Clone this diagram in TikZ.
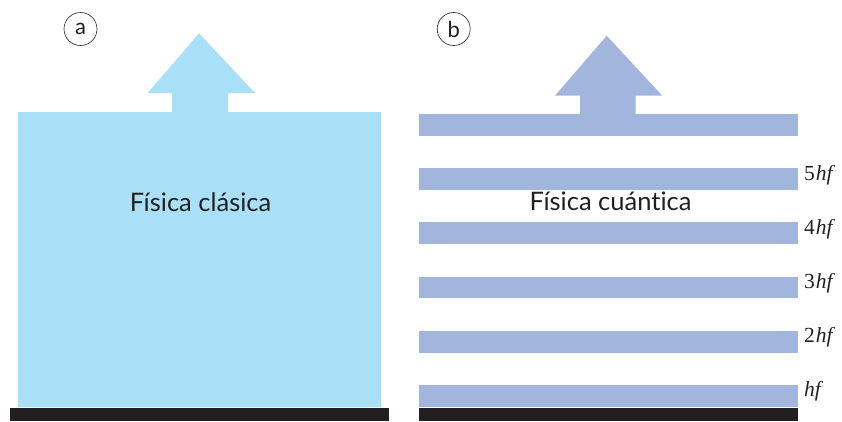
\documentclass[tikz,border=0pt]{standalone}
\usepackage{fontspec}
\setmainfont{Liberation Serif}
\newfontfamily\labelfont[Ligatures=NoCommon]{Lato}
\definecolor{skyA}{HTML}{AAE0F7}
\definecolor{bandB}{HTML}{A2B5DC}
\definecolor{floorC}{HTML}{231F20}
\begin{document}
\begin{tikzpicture}[x=1pt,y=-1pt,
  panellabel/.style={font=\labelfont\fontsize{25.5}{25.5}\selectfont, text=floorC, inner sep=0pt, anchor=base},
  tag/.style={circle, draw=floorC, line width=0.6pt, minimum size=33pt, inner sep=0pt, font=\labelfont\fontsize{22}{22}\selectfont, text=floorC},
  level/.style={font=\fontsize{21.5}{21.5}\selectfont, text=floorC, inner sep=0pt, anchor=base west}]
\useasboundingbox (0,0) rectangle (842,421);
% panel a
\fill[skyA] (18,112) rectangle (381,407);
\fill[skyA] (172,112) -- (172,93) -- (147.7,93) -- (199,33.3) -- (255,93) -- (228,93) -- (228,112) -- cycle;
\fill[floorC] (10,408) rectangle (389,421);
\node[tag] (ta) at (80.5,29) {a};
\node[panellabel] (ca) at (200.5,211) {Física clásica};
% panel b
\fill[bandB] (580,115) -- (580,95.7) -- (555,95.7) -- (606.7,35.7) -- (662.3,95.7) -- (635.7,95.7) -- (635.7,115) -- cycle;
\foreach \k in {0,...,5} {
  \fill[bandB] (419,114+54.2*\k) rectangle (797.7,135.8+54.2*\k);
}
\fill[floorC] (419,408) rectangle (797.7,421);
\node[tag] (tb) at (453.7,29) {b};
\node[panellabel] (cb) at (610.5,210) {Física cuántica};
\node[level] (l5) at (804,180) {5\kern0.8pt\textit{hf}};
\node[level] (l4) at (804,234.2) {4\kern0.8pt\textit{hf}};
\node[level] (l3) at (804,288.4) {3\kern0.8pt\textit{hf}};
\node[level] (l2) at (804,342.6) {2\kern0.8pt\textit{hf}};
\node[level] (l1) at (804,396.8) {\textit{hf}};
\end{tikzpicture}
\end{document}
